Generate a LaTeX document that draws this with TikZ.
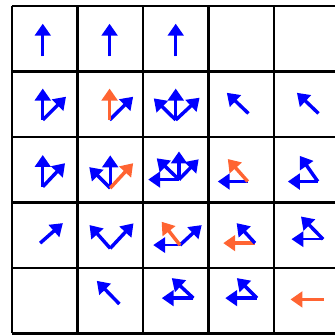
\documentclass[tikz,border=0pt]{standalone}
\usepackage{tikz}
\usetikzlibrary{arrows.meta}
\definecolor{polblue}{RGB}{0,0,255}
\definecolor{polorange}{RGB}{255,100,50}

\begin{document}
\begin{tikzpicture}[x=1cm,y=1cm,
  cellgrid/.style={draw=black,line width=0.9pt},
  act/.style={-{Triangle[length=5.2pt,width=6.8pt]},line width=1.5pt,draw=polblue,fill=polblue},
  actor/.style={act,draw=polorange,fill=polorange},
  thinact/.style={line width=0.7pt}]
\useasboundingbox (-0.183,-0.023) rectangle (4.931,5.092);
\draw[cellgrid] (0,0) grid (5,5);
\coordinate (o00) at (0.47,4.23);
\coordinate (o01) at (1.49,4.23);
\coordinate (o02) at (2.50,4.23);
\coordinate (o10) at (0.47,3.26);
\coordinate (o11) at (1.49,3.26);
\coordinate (o12) at (2.50,3.26);
\coordinate (o13) at (3.61,3.36);
\coordinate (o14) at (4.68,3.36);
\coordinate (o20) at (0.47,2.24);
\coordinate (o21) at (1.50,2.22);
\coordinate (o22) at (2.55,2.35);
\coordinate (o23) at (3.60,2.32);
\coordinate (o24) at (4.67,2.32);
\coordinate (o30) at (0.43,1.38);
\coordinate (o31) at (1.50,1.30);
\coordinate (o32) at (2.565,1.35);
\coordinate (o33) at (3.71,1.38);
\coordinate (o34) at (4.75,1.44);
\coordinate (o41) at (1.64,0.45);
\coordinate (o42) at (2.77,0.54);
\coordinate (o43) at (3.74,0.54);
\coordinate (o44) at (4.76,0.52);
\draw[act] (o00) -- ++(0,0.5);
\draw[act] (o01) -- ++(0,0.5);
\draw[act] (o02) -- ++(0,0.5);
\draw[act] (o10) -- ++(0,0.48);
\draw[act] (o10) -- ++(0.355,0.355);
\draw[act] (o11) -- ++(0.36,0.355);
\draw[actor] (o11) -- ++(0,0.48);
\draw[act] (o12) -- ++(-0.335,0.33);
\draw[act] (o12) -- ++(0,0.48);
\draw[act] (o12) -- ++(0.365,0.34);
\draw[act] (o13) -- ++(-0.33,0.315);
\draw[act] (o14) -- ++(-0.33,0.315);
\draw[act] (o20) -- ++(0,0.485);
\draw[act] (o20) -- ++(0.34,0.36);
\draw[act] (o21) -- ++(-0.32,0.32);
\draw[act] (o21) -- ++(0,0.5);
\draw[actor] (o21) -- ++(0.35,0.38);
\draw[act] (o22) -- ++(-0.47,0);
\draw[act] (o22) -- ++(-0.34,0.325);
\draw[act] (o22) -- ++(0,0.43);
\draw[act] (o22) -- ++(0.3,0.31);
\draw[act] (o23) -- ++(-0.458,0);
\draw[actor] (o23) -- ++(-0.305,0.344);
\draw[act] (o24) -- ++(-0.458,0);
\draw[act] (o24) -- ++(-0.275,0.392);
\draw[act] (o30) -- ++(0.347,0.305);
\draw[act] (o31) -- ++(-0.316,0.356);
\draw[act] (o31) -- ++(0.355,0.382);
\draw[act,thinact] (o32) -- ++(-0.408,0);
\draw[act] (o32) -- ++(0.331,0.305);
\draw[actor] (o32) -- ++(-0.28,0.356);
\draw[actor] (o33) -- ++(-0.484,0);
\draw[act] (o33) -- ++(-0.28,0.305);
\draw[act,thinact] (o34) -- ++(-0.482,0);
\draw[act] (o34) -- ++(-0.337,0.346);
\draw[act] (o41) -- ++(-0.345,0.354);
\draw[act] (o42) -- ++(-0.483,0);
\draw[act] (o42) -- ++(-0.33,0.306);
\draw[act] (o43) -- ++(-0.484,0);
\draw[act] (o43) -- ++(-0.306,0.306);
\draw[actor] (o44) -- ++(-0.508,0);
\end{tikzpicture}
\end{document}
